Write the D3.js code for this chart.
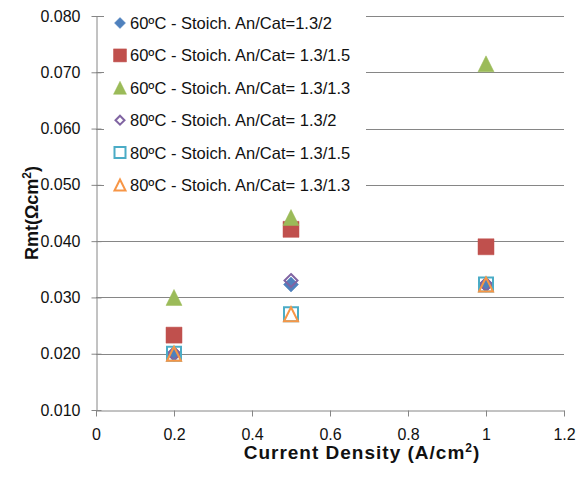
<!DOCTYPE html>
<html>
<head>
<meta charset="utf-8">
<script src="https://cdn.jsdelivr.net/npm/d3@7"></script>
<style>
  html, body { margin: 0; padding: 0; background: #fff; }
  svg { display: block; font-family: "Liberation Sans", Arial, sans-serif; }
</style>
</head>
<body>
<svg id="chart" width="585" height="480"></svg>
<script>
// Current density (A/cm²) at which each run was measured
const currentDensity = [0.2, 0.5, 1.0];

// Mass-transport resistance Rmt (Ω·cm²) per operating condition
const rmt60_2   = [0.0200, 0.0323, 0.0323];
const rmt60_15  = [0.0233, 0.0421, 0.0390];
const rmt60_13  = [0.0300, 0.0442, 0.0715];
const rmt80_2   = [0.0200, 0.0330, 0.0323];
const rmt80_15  = [0.0200, 0.0270, 0.0323];
const rmt80_13  = [0.0200, 0.0270, 0.0323];

const seriesNames = [
  "60ºC - Stoich. An/Cat=1.3/2",
  "60ºC - Stoich. An/Cat= 1.3/1.5",
  "60ºC - Stoich. An/Cat= 1.3/1.3",
  "80ºC - Stoich. An/Cat= 1.3/2",
  "80ºC - Stoich. An/Cat= 1.3/1.5",
  "80ºC - Stoich. An/Cat= 1.3/1.3"
];

const xTicks = [0, 0.2, 0.4, 0.6, 0.8, 1.0, 1.2];
const yTicks = [0.010, 0.020, 0.030, 0.040, 0.050, 0.060, 0.070, 0.080];

// Marker style for each series (shape, filled or outlined, colour)
const markerStyles = [
  { shape: "diamond",  filled: true,  color: "#4F81BD" },
  { shape: "square",   filled: true,  color: "#C0504D" },
  { shape: "triangle", filled: true,  color: "#9BBB59" },
  { shape: "diamond",  filled: false, color: "#8064A2" },
  { shape: "square",   filled: false, color: "#4BACC6" },
  { shape: "triangle", filled: false, color: "#F79646" }
];

const seriesValues = [rmt60_2, rmt60_15, rmt60_13, rmt80_2, rmt80_15, rmt80_13];

const svg = d3.select("#chart");
const plot = { left: 96, right: 564, top: 16, bottom: 410 };

const x = d3.scaleLinear().domain([0, 1.2]).range([plot.left, plot.right]);
const y = d3.scaleLinear().domain([0.010, 0.080]).range([plot.bottom, plot.top]);

const axisColor = "#868686";
const textColor = "#111";

// Marker outline path centred at (0,0); s is the bounding box size
function markerPath(shape, s) {
  const h = s / 2;
  if (shape === "square") return `M${-h},${-h}H${h}V${h}H${-h}Z`;
  if (shape === "diamond") return `M0,${-h}L${h},0L0,${h}L${-h},0Z`;
  return `M0,${-h}L${h},${h}L${-h},${h}Z`;
}

function drawMarker(sel, style, s) {
  const inset = style.filled ? 0 : 1;
  sel.append("path")
    .attr("d", markerPath(style.shape, s - inset * 2))
    .attr("fill", style.filled ? style.color : "none")
    .attr("stroke", style.color)
    .attr("stroke-width", style.filled ? 0.5 : 2)
    .attr("stroke-linejoin", "miter");
}

// Horizontal gridlines
svg.append("g")
  .selectAll("line")
  .data(yTicks.slice(1))
  .join("line")
  .attr("x1", plot.left).attr("x2", plot.right)
  .attr("y1", d => Math.round(y(d)) + 0.5).attr("y2", d => Math.round(y(d)) + 0.5)
  .attr("stroke", axisColor).attr("stroke-width", 1);

// Y axis
const yAxis = svg.append("g")
  .attr("transform", `translate(${plot.left + 0.5},0)`)
  .call(d3.axisLeft(y).tickValues(yTicks).tickFormat(d3.format(".3f"))
    .tickSizeInner(5).tickSizeOuter(0).tickPadding(11));
yAxis.select(".domain").attr("stroke", axisColor);
yAxis.selectAll(".tick line").attr("stroke", axisColor).attr("x1", 5);
yAxis.selectAll(".tick text").attr("fill", textColor).style("font-size", "16px");

// X axis
const xAxis = svg.append("g")
  .attr("transform", `translate(0,${plot.bottom + 0.5})`)
  .call(d3.axisBottom(x).tickValues(xTicks).tickFormat(d3.format("~g"))
    .tickSizeInner(6).tickSizeOuter(0));
xAxis.select(".domain").attr("stroke", axisColor);
xAxis.selectAll(".tick line").attr("stroke", axisColor);
xAxis.selectAll(".tick text").attr("fill", textColor).style("font-size", "16px")
  .attr("y", 29).attr("dy", 0);

// Data markers
seriesValues.forEach((vals, i) => {
  svg.append("g")
    .selectAll("g")
    .data(vals.map((v, j) => ({ x: currentDensity[j], y: v })))
    .join("g")
    .attr("transform", d => `translate(${x(d.x)},${y(d.y)})`)
    .each(function () {
      const st = markerStyles[i];
      const size = st.shape === "diamond" ? 15 : 16;
      drawMarker(d3.select(this), st, size);
    });
});

// Legend
const legend = svg.append("g");
legend.append("rect")
  .attr("x", 104).attr("y", 2).attr("width", 262).attr("height", 198)
  .attr("fill", "#fff");
seriesNames.forEach((name, i) => {
  const cy = 23 + i * 32.4;
  const item = legend.append("g");
  const st = markerStyles[i];
  const mg = item.append("g").attr("transform", `translate(120,${cy})`);
  drawMarker(mg, st, st.shape === "diamond" ? 11 : 13);
  item.append("text")
    .attr("x", 130).attr("y", cy).attr("dy", "0.36em")
    .attr("fill", textColor)
    .style("font-size", "16.5px")
    .text(name);
});

// Axis titles
const xTitle = svg.append("text")
  .attr("x", 362).attr("y", 459)
  .attr("text-anchor", "middle")
  .attr("fill", textColor)
  .style("font-size", "19px").style("font-weight", "bold")
  .style("letter-spacing", "1px");
xTitle.append("tspan").text("Current Density (A/cm");
xTitle.append("tspan").attr("dy", -7).style("font-size", "12px").text("2");
xTitle.append("tspan").attr("dy", 7).text(")");

const yTitle = svg.append("text")
  .attr("transform", "translate(38,213) rotate(-90)")
  .attr("text-anchor", "middle")
  .attr("fill", textColor)
  .style("font-size", "18px").style("font-weight", "bold");
yTitle.append("tspan").text("Rmt(Ωcm");
yTitle.append("tspan").attr("dy", -7).style("font-size", "12px").text("2");
yTitle.append("tspan").attr("dy", 7).text(")");
</script>
</body>
</html>
